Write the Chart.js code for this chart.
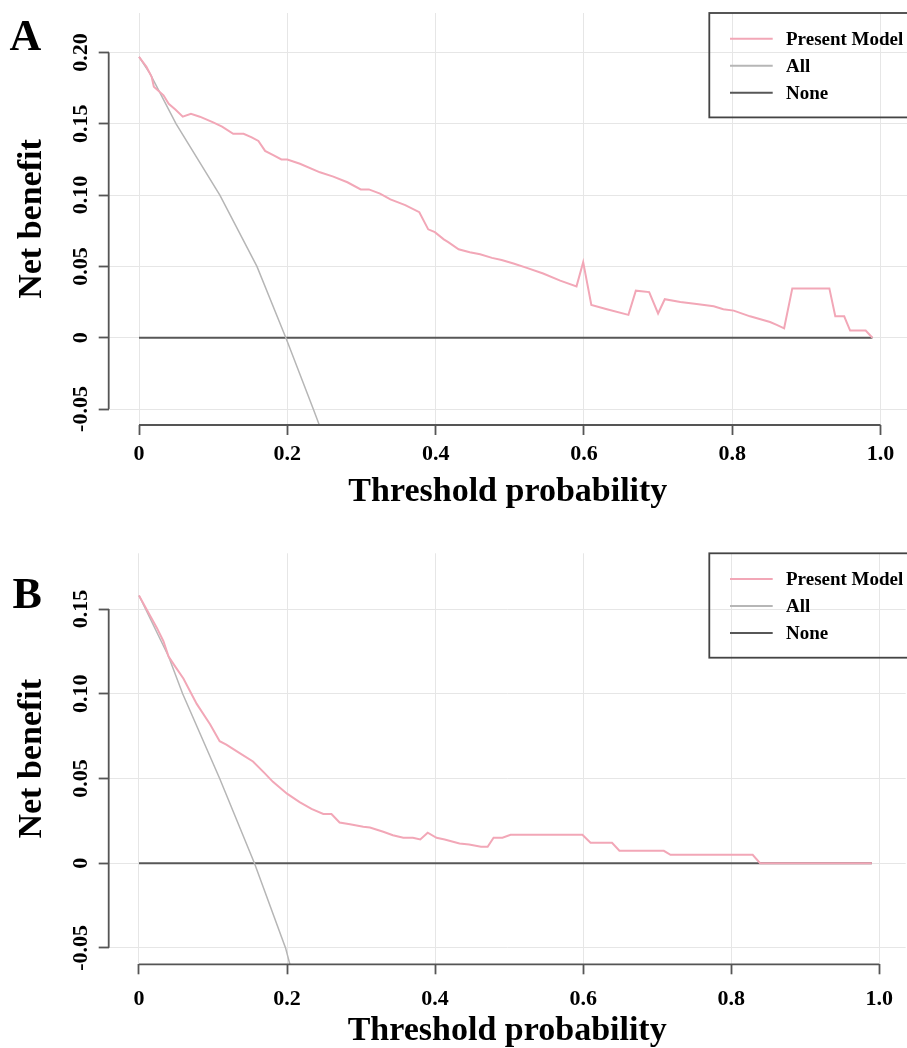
<!DOCTYPE html>
<html>
<head>
<meta charset="utf-8">
<script src="https://cdn.jsdelivr.net/npm/chart.js@4.4.1/dist/chart.umd.min.js"></script>
<style>
html, body { margin:0; padding:0; background:#fff; width:907px; height:1048px; overflow:hidden; }
.panel { position:absolute; left:0; width:907px; height:524px; }
#pa { top:0; }
#pb { top:524px; }
.letter { position:absolute; font-family:"Liberation Serif","Times New Roman",serif; font-weight:bold; font-size:44px; line-height:44px; color:#000; }
</style>
</head>
<body>
<div class="panel" id="pa"><canvas id="ca" width="907" height="524"></canvas></div>
<div class="panel" id="pb"><canvas id="cb" width="907" height="524"></canvas></div>
<div class="letter" style="left:9.5px; top:14px;">A</div>
<div class="letter" style="left:12.5px; top:571.5px;">B</div>
<script>
// ---------- data ----------
const seriesLabels = ['Present Model', 'All', 'None'];

const xTickValues = [0, 0.2, 0.4, 0.6, 0.8, 1.0];
const xTickLabels = ['0', '0.2', '0.4', '0.6', '0.8', '1.0'];

const aYTickValues = [-0.05, 0, 0.05, 0.10, 0.15, 0.20];
const aYTickLabels = ['-0.05', '0', '0.05', '0.10', '0.15', '0.20'];
const bYTickValues = [-0.05, 0, 0.05, 0.10, 0.15];
const bYTickLabels = ['-0.05', '0', '0.05', '0.10', '0.15'];

// Panel A
const aModelThreshold = [0, 0.010, 0.017, 0.020, 0.033, 0.040, 0.049, 0.059, 0.070, 0.082,
  0.100, 0.112, 0.127, 0.141, 0.152, 0.161, 0.170, 0.181, 0.192, 0.200,
  0.217, 0.244, 0.262, 0.281, 0.299, 0.310, 0.325, 0.339, 0.359, 0.378,
  0.390, 0.399, 0.411, 0.417, 0.431, 0.446, 0.460, 0.476, 0.489, 0.505,
  0.523, 0.545, 0.568, 0.590, 0.599, 0.610, 0.631, 0.660, 0.670, 0.688,
  0.700, 0.709, 0.730, 0.752, 0.775, 0.788, 0.802, 0.824, 0.851, 0.860,
  0.870, 0.881, 0.931, 0.939, 0.951, 0.959, 0.980, 0.989];
const aModelBenefit = [0.197, 0.190, 0.183, 0.176, 0.170, 0.164, 0.160, 0.155, 0.157, 0.155,
  0.151, 0.148, 0.143, 0.143, 0.1405, 0.138, 0.131, 0.128, 0.125, 0.125,
  0.122, 0.116, 0.113, 0.109, 0.104, 0.104, 0.101, 0.097, 0.093, 0.088,
  0.076, 0.074, 0.069, 0.067, 0.062, 0.060, 0.0585, 0.056, 0.0545, 0.052,
  0.049, 0.045, 0.040, 0.036, 0.053, 0.023, 0.020, 0.016, 0.033, 0.032,
  0.017, 0.027, 0.025, 0.0236, 0.022, 0.020, 0.019, 0.015, 0.011, 0.009,
  0.0066, 0.0346, 0.0346, 0.015, 0.015, 0.005, 0.005, 0];
const aAllThreshold = [0, 0.015, 0.050, 0.109, 0.159, 0.198, 0.235, 0.243];
const aAllBenefit = [0.197, 0.185, 0.150, 0.100, 0.050, 0, -0.050, -0.061];
const aNoneThreshold = [0, 0.989];
const aNoneBenefit = [0, 0];

// Panel B
const bModelThreshold = [0, 0.010, 0.024, 0.033, 0.040, 0.049, 0.060, 0.078, 0.096, 0.109,
  0.118, 0.136, 0.154, 0.170, 0.181, 0.200, 0.217, 0.233, 0.249, 0.260,
  0.271, 0.285, 0.303, 0.312, 0.330, 0.343, 0.357, 0.370, 0.380, 0.390,
  0.402, 0.413, 0.433, 0.446, 0.462, 0.471, 0.479, 0.491, 0.502, 0.599,
  0.610, 0.639, 0.649, 0.709, 0.718, 0.829, 0.839, 0.990];
const bModelBenefit = [0.158, 0.150, 0.139, 0.131, 0.122, 0.116, 0.109, 0.094, 0.082, 0.072,
  0.070, 0.065, 0.060, 0.053, 0.048, 0.041, 0.036, 0.032, 0.029, 0.029,
  0.024, 0.023, 0.0215, 0.021, 0.0185, 0.0165, 0.015, 0.015, 0.014, 0.018,
  0.015, 0.014, 0.0116, 0.011, 0.0097, 0.0097, 0.015, 0.015, 0.0167, 0.0167,
  0.012, 0.012, 0.0073, 0.0073, 0.0049, 0.0049, 0, 0];
const bAllThreshold = [0, 0.040, 0.059, 0.109, 0.156, 0.198, 0.204];
const bAllBenefit = [0.158, 0.122, 0.100, 0.050, 0, -0.050, -0.060];
const bNoneThreshold = [0, 0.990];
const bNoneBenefit = [0, 0];

// ---------- style ----------
const FONT = '"Liberation Serif", "Times New Roman", serif';
const COL_MODEL = '#f2a7b7';
const COL_ALL = '#b6b6b6';
const COL_NONE = '#575757';
const COL_AXIS = '#555555';
const COL_GRID = '#e6e6e6';

const toPoints = (xs, ys) => xs.map((x, i) => ({ x: x, y: ys[i] }));

const rStyle = {
  id: 'rStyle',
  afterDraw(chart, args, o) {
    const ctx = chart.ctx, ca = chart.chartArea;
    const xs = chart.scales.x, ys = chart.scales.y;
    const xv = xs.ticks.map(t => t.value), yv = ys.ticks.map(t => t.value);
    ctx.save();
    // partial axis lines (R style)
    ctx.strokeStyle = COL_AXIS;
    ctx.lineWidth = 1.8;
    ctx.beginPath();
    ctx.moveTo(xs.getPixelForValue(Math.min(...xv)), ca.bottom);
    ctx.lineTo(xs.getPixelForValue(Math.max(...xv)), ca.bottom);
    ctx.moveTo(ca.left, ys.getPixelForValue(Math.min(...yv)));
    ctx.lineTo(ca.left, ys.getPixelForValue(Math.max(...yv)));
    ctx.stroke();
    // rotated y tick labels
    ctx.fillStyle = '#000';
    ctx.font = 'bold 22px ' + FONT;
    ctx.textAlign = 'center';
    ctx.textBaseline = 'alphabetic';
    ys.ticks.forEach((t, i) => {
      ctx.save();
      ctx.translate(ca.left - 21.5, ys.getPixelForValue(t.value));
      ctx.rotate(-Math.PI / 2);
      ctx.fillText(o.yLabels[i], 0, 0);
      ctx.restore();
    });
    // legend box
    const lx = o.legendLeft, ly = ca.top, lh = 104.4;
    ctx.strokeStyle = '#444';
    ctx.lineWidth = 1.8;
    ctx.strokeRect(lx, ly, chart.width + 10 - lx, lh);
    ctx.font = 'bold 19px ' + FONT;
    ctx.textAlign = 'left';
    ctx.textBaseline = 'middle';
    chart.data.datasets.forEach((d, i) => {
      const ry = ly + 25.8 + i * 27;
      ctx.strokeStyle = d.borderColor;
      ctx.lineWidth = 2;
      ctx.beginPath();
      ctx.moveTo(lx + 20.7, ry);
      ctx.lineTo(lx + 63.4, ry);
      ctx.stroke();
      ctx.fillStyle = '#000';
      ctx.fillText(d.label, lx + 76.7, ry + 1);
    });
    ctx.restore();
  }
};

function makeChart(id, p) {
  const datasets = [
    { label: seriesLabels[0], data: toPoints(p.modelX, p.modelY), borderColor: COL_MODEL, borderWidth: 2 },
    { label: seriesLabels[1], data: toPoints(p.allX, p.allY), borderColor: COL_ALL, borderWidth: 1.5 },
    { label: seriesLabels[2], data: toPoints(p.noneX, p.noneY), borderColor: COL_NONE, borderWidth: 2 }
  ];
  const gridOpts = { color: COL_GRID, lineWidth: 1, tickLength: 10, tickColor: COL_AXIS, tickWidth: 1.8, drawTicks: true };
  return new Chart(document.getElementById(id), {
    type: 'line',
    data: { datasets: datasets },
    options: {
      responsive: false,
      maintainAspectRatio: false,
      animation: false,
      devicePixelRatio: 1,
      layout: { padding: { top: p.padTop, left: 0, right: 0, bottom: 0 }, autoPadding: false },
      elements: { point: { radius: 0, hoverRadius: 0 }, line: { tension: 0, fill: false } },
      plugins: {
        legend: { display: false },
        tooltip: { enabled: false },
        rStyle: { yLabels: p.yLabels, legendLeft: 709.3 }
      },
      scales: {
        x: {
          type: 'linear', position: 'bottom',
          min: -0.0409, max: 1.0357,
          afterBuildTicks: s => { s.ticks = xTickValues.map(v => ({ value: v })); },
          afterFit: s => { s.height = p.xAxisHeight; },
          grid: gridOpts,
          border: { display: false },
          ticks: {
            autoSkip: false, maxRotation: 0, minRotation: 0,
            padding: p.xTickPad,
            color: '#000',
            font: { family: FONT, size: 22, weight: 'bold', lineHeight: 1 },
            callback: (v, i) => xTickLabels[i]
          },
          title: {
            display: true, text: 'Threshold probability', color: '#000',
            font: { family: FONT, size: 34, weight: 'bold', lineHeight: 1 },
            padding: { top: 0, bottom: p.xTitlePad }
          }
        },
        y: {
          type: 'linear', position: 'left',
          min: p.yMin, max: p.yMax,
          afterBuildTicks: s => { s.ticks = p.yTicks.map(v => ({ value: v })); },
          afterFit: s => { s.width = 108.7; },
          grid: gridOpts,
          border: { display: false },
          ticks: { display: false },
          title: {
            display: true, text: 'Net benefit', color: '#000',
            font: { family: FONT, size: 34, weight: 'bold', lineHeight: 1 },
            padding: { top: 14.8, bottom: 0 }
          }
        }
      }
    },
    plugins: [rStyle]
  });
}

makeChart('ca', {
  modelX: aModelThreshold, modelY: aModelBenefit,
  allX: aAllThreshold, allY: aAllBenefit,
  noneX: aNoneThreshold, noneY: aNoneBenefit,
  yTicks: aYTickValues, yLabels: aYTickLabels,
  yMin: -0.0612, yMax: 0.2277,
  padTop: 13, xAxisHeight: 99, xTickPad: 8.3, xTitlePad: 14.4
});
makeChart('cb', {
  modelX: bModelThreshold, modelY: bModelBenefit,
  allX: bAllThreshold, allY: bAllBenefit,
  noneX: bNoneThreshold, noneY: bNoneBenefit,
  yTicks: bYTickValues, yLabels: bYTickLabels,
  yMin: -0.0597, yMax: 0.1829,
  padTop: 29.3, xAxisHeight: 83.7, xTickPad: 14, xTitlePad: 0
});
</script>
</body>
</html>
